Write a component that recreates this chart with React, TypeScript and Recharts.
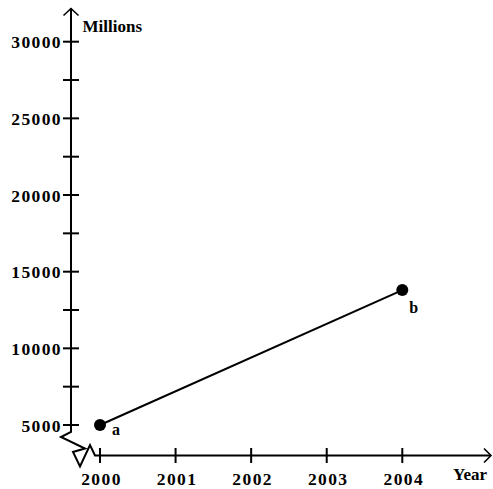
import React from 'react';
import { LineChart, Line, XAxis, YAxis, Customized, LabelList } from 'recharts';

const years = [2000, 2004];
const values = [5000, 13800];
const pointLabels = ['a', 'b'];
const xTicks = [2000, 2001, 2002, 2003, 2004];
const yTicks = [5000, 7500, 10000, 12500, 15000, 17500, 20000, 22500, 25000, 27500, 30000];
const yLabelStep = 5000;
const yAxisTitle = 'Millions';
const xAxisTitle = 'Year';

const data = years.map((year, i) => ({ year, value: values[i], label: pointLabels[i] }));

const W = 493;
const H = 489;
const PLOT_LEFT = 100;
const PLOT_RIGHT = 402.3;
const PLOT_TOP = 41.7;
const PLOT_BOTTOM = 425;
const Y_AXIS_X = 71;
const X_AXIS_Y = 455.5;

const FONT = '"Liberation Serif", "Times New Roman", serif';

const XTick = (p: any) => {
  const { x, y, payload } = p;
  const ay = y + (X_AXIS_Y - PLOT_BOTTOM);
  return (
    <g>
      <line x1={x} x2={x} y1={ay - 7.5} y2={ay + 7.5} stroke="#000" strokeWidth={2} />
      <text x={x + 1.5} y={ay + 29.5} textAnchor="middle" fontFamily={FONT} fontSize={17.5} fontWeight="bold" letterSpacing={1.4} fill="#000">
        {payload.value}
      </text>
    </g>
  );
};

const YTick = (p: any) => {
  const { x, y, payload } = p;
  const ax = x - (PLOT_LEFT - Y_AXIS_X);
  return (
    <g>
      <line x1={ax - 8} x2={ax + 8} y1={y} y2={y} stroke="#000" strokeWidth={2} />
      {payload.value % yLabelStep === 0 ? (
        <text x={ax - 9} y={y + 6.5} textAnchor="end" fontFamily={FONT} fontSize={17.5} fontWeight="bold" letterSpacing={1.4} fill="#000">
          {payload.value}
        </text>
      ) : null}
    </g>
  );
};

const Decor = () => {
  const brk = [
    [Y_AXIS_X, PLOT_BOTTOM + 7],
    [61, 437],
    [85, 448.5],
    [73, 452],
    [80, 466.5],
    [90, 445],
    [95, X_AXIS_Y],
    [490, X_AXIS_Y],
  ];
  const d = `M${Y_AXIS_X},8.5 ` + brk.map(([a, b]) => `L${a},${b}`).join(' ');
  return (
    <g>
      <path d={d} fill="none" stroke="#000" strokeWidth={2} strokeLinejoin="miter" />
      <path d={`M${Y_AXIS_X - 7.5},15.5 L${Y_AXIS_X},8.5 L${Y_AXIS_X + 7.5},15.5`} fill="none" stroke="#000" strokeWidth={1.6} />
      <path d={`M484,${X_AXIS_Y - 7} L491,${X_AXIS_Y} L484,${X_AXIS_Y + 7}`} fill="none" stroke="#000" strokeWidth={1.6} />
      <text x={82.5} y={31.5} fontFamily={FONT} fontSize={17} fontWeight="bold" fill="#000">{yAxisTitle}</text>
      <text x={453} y={480} fontFamily={FONT} fontSize={17} fontWeight="bold" fill="#000">{xAxisTitle}</text>
    </g>
  );
};

const PointLabel = (p: any) => {
  const { x, y, value, index } = p;
  const dx = index === 0 ? 12 : 7;
  const dy = index === 0 ? 10 : 23;
  return (
    <text x={x + dx} y={y + dy} fontFamily={FONT} fontSize={16} fontWeight="bold" fill="#000">
      {value}
    </text>
  );
};

export default function App() {
  return (
    <div style={{ position: 'absolute', left: 0, top: 0, width: W, height: H, background: '#fff' }}>
      <LineChart
        width={W}
        height={H}
        data={data}
        margin={{ top: PLOT_TOP, right: W - PLOT_RIGHT, bottom: 0, left: 0 }}
      >
        <XAxis
          type="number"
          dataKey="year"
          domain={[2000, 2004]}
          ticks={xTicks}
          interval={0}
          axisLine={false}
          tickLine={false}
          tickSize={0}
          tickMargin={0}
          height={H - PLOT_BOTTOM}
          tick={(p: any) => <XTick {...p} />}
        />
        <YAxis
          type="number"
          domain={[5000, 30000]}
          ticks={yTicks}
          interval={0}
          axisLine={false}
          tickLine={false}
          tickSize={0}
          tickMargin={0}
          width={PLOT_LEFT}
          tick={(p: any) => <YTick {...p} />}
        />
        <Line
          type="linear"
          dataKey="value"
          stroke="#000"
          strokeWidth={2}
          dot={{ r: 6, fill: '#000', stroke: '#000', strokeWidth: 0 }}
          isAnimationActive={false}
        >
          <LabelList dataKey="label" content={(p: any) => <PointLabel {...p} />} />
        </Line>
        <Customized component={<Decor />} />
      </LineChart>
    </div>
  );
}
